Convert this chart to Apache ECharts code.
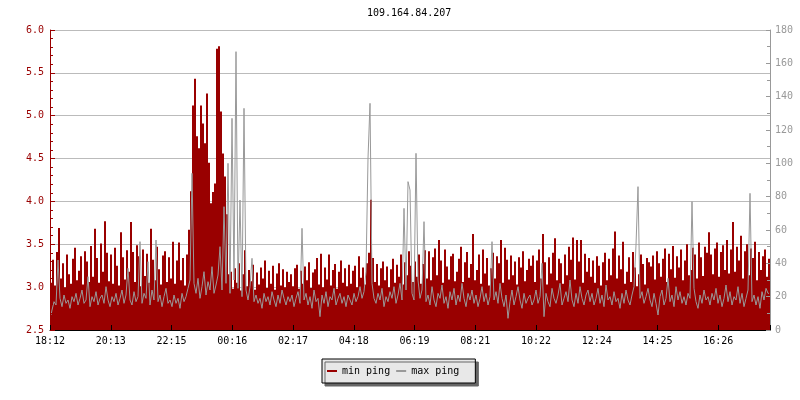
<!DOCTYPE html>
<html>
<head>
<meta charset="utf-8">
<script src="https://cdn.jsdelivr.net/npm/echarts@6/dist/echarts.min.js"></script>
<style>html,body{margin:0;padding:0;background:#fff}#c{width:800px;height:400px}</style>
</head>
<body>
<div id="c"></div>
<script>
// Title
var chartTitle = '109.164.84.207';
// x tick labels (every ~121.5 min, axis spans 1440 min = 24h starting 18:12)
var tickLabels = ['18:12','20:13','22:15','00:16','02:17','04:18','06:19','08:21','10:22','12:24','14:25','16:26'];
var tickStepMin = 121.5;
var sampleStepMin = 4; // one sample every 4 minutes

// min ping (left axis), one value per 4-minute sample
var minPing = [
3.05,3.32,3.02,3.41,3.69,3.10,3.28,3.00,3.38,3.15,3.04,3.33,3.46,3.08,3.19,3.36,3.03,3.42,3.30,3.06,3.48,3.12,3.68,3.34,3.05,3.51,3.18,3.77,3.40,3.07,
3.38,3.04,3.46,3.25,3.02,3.64,3.35,3.09,3.43,3.18,3.76,3.41,3.06,3.49,3.36,3.01,3.44,3.13,3.39,3.05,3.68,3.32,3.08,3.47,3.21,3.03,3.37,3.42,3.06,3.35,
3.10,3.53,3.04,3.31,3.52,3.08,3.34,3.02,3.38,3.67,4.12,5.12,5.43,4.76,4.62,5.12,4.91,4.68,5.26,4.45,3.98,4.11,4.21,5.78,5.81,5.05,4.56,4.29,3.85,3.15,
3.18,2.98,3.22,3.05,3.28,2.96,3.15,3.43,3.01,3.20,3.07,3.26,2.97,3.17,3.03,3.23,3.10,3.31,2.99,3.19,3.04,3.25,2.97,3.16,3.28,3.02,3.21,3.00,3.18,3.06,
3.15,3.01,3.22,3.26,2.98,3.19,3.04,3.24,3.08,3.29,2.99,3.17,3.21,3.34,3.03,3.39,3.00,3.23,3.09,3.38,3.02,3.20,3.27,2.98,3.18,3.31,3.05,3.22,3.01,3.26,
3.04,3.19,3.25,3.00,3.36,3.11,3.23,3.03,3.28,3.40,4.02,3.34,3.06,3.27,3.02,3.22,3.30,3.08,3.24,3.00,3.21,3.33,3.05,3.26,3.12,3.38,3.03,3.29,3.14,3.42,
3.25,3.06,3.30,3.12,3.38,3.04,3.27,3.43,3.10,3.42,3.08,3.35,3.45,3.14,3.55,3.31,3.05,3.44,3.24,3.09,3.36,3.39,3.07,3.18,3.33,3.47,3.06,3.29,3.41,3.11,
3.27,3.62,3.08,3.20,3.38,3.04,3.44,3.16,3.34,3.02,3.22,3.40,3.10,3.36,3.28,3.55,3.05,3.46,3.32,3.09,3.37,3.14,3.30,3.03,3.35,3.23,3.42,3.07,3.20,3.33,
3.25,3.37,3.06,3.31,3.44,3.10,3.62,3.29,3.03,3.35,3.16,3.40,3.57,3.08,3.33,3.28,3.04,3.38,3.14,3.47,3.32,3.58,3.09,3.55,3.30,3.55,3.05,3.39,3.18,3.34,
3.12,3.31,3.05,3.36,3.25,3.02,3.29,3.40,3.08,3.33,3.14,3.45,3.65,3.10,3.37,3.21,3.53,3.04,3.18,3.35,3.06,3.41,3.23,3.01,3.15,3.38,3.27,3.03,3.34,3.29,
3.24,3.37,3.09,3.42,3.28,3.12,3.33,3.45,3.06,3.39,3.21,3.48,3.11,3.36,3.23,3.44,3.08,3.31,3.50,3.14,3.20,3.46,3.38,3.10,3.52,3.35,3.13,3.47,3.40,3.64,
3.38,3.15,3.45,3.52,3.12,3.41,3.49,3.20,3.55,3.16,3.44,3.76,3.18,3.47,3.31,3.60,3.10,3.42,3.50,3.14,3.45,3.34,3.53,3.08,3.41,3.20,3.36,3.44,3.12,3.33
];

// max ping (right axis)
var maxPing = [
9,12,17,15,42,19,14,21,16,18,13,20,17,22,15,19,24,16,18,32,14,20,17,23,15,19,21,16,26,18,
14,20,17,22,15,19,24,16,21,37,18,15,23,17,20,53,16,22,19,41,15,24,18,54,17,21,14,20,25,16,
18,14,21,16,19,13,22,17,20,25,30,94,28,22,31,19,26,35,21,29,24,38,22,27,33,50,24,74,28,100,
22,127,30,167,25,78,20,133,24,18,26,43,17,21,16,19,13,22,17,20,15,23,18,14,21,16,24,19,15,20,
17,21,14,19,23,16,61,18,22,15,20,13,24,17,19,8,21,16,23,14,20,18,25,15,19,22,16,20,14,21,
18,15,22,17,20,26,19,23,35,103,136,28,19,16,22,18,25,14,20,17,23,19,26,16,21,28,18,73,24,89,
84,22,18,106,30,19,24,65,17,21,15,26,18,14,22,19,27,16,20,13,23,18,25,15,21,17,28,19,14,22,
18,24,16,21,14,19,26,17,22,15,20,53,18,23,16,28,19,14,21,7,17,24,15,20,26,18,13,22,16,19,
21,15,18,24,16,20,40,8,22,17,14,25,19,16,21,28,15,19,23,17,30,18,14,22,16,26,19,15,21,24,
17,22,15,19,25,16,21,14,27,18,20,15,23,17,19,13,22,16,24,18,15,21,26,51,86,19,23,16,20,25,
18,14,22,16,9,20,24,15,19,31,17,21,14,26,18,23,16,20,15,22,19,77,25,17,13,21,16,24,18,20,
15,22,18,25,16,21,14,19,27,17,23,15,20,18,26,16,22,14,19,24,82,17,21,15,20,13,23,18,25,22
];

var FONT = '"DejaVu Sans Mono", monospace';
var minData = minPing.map(function(v, i){ return [i * sampleStepMin + sampleStepMin / 2, v]; });
var maxData = maxPing.map(function(v, i){ return [i * sampleStepMin + sampleStepMin / 2, v]; });

var chart = echarts.init(document.getElementById('c'), null, {renderer: 'canvas'});
chart.setOption({
  animation: false,
  backgroundColor: '#fff',
  title: {
    text: chartTitle, left: 367, top: 8, padding: 0,
    textStyle: {fontFamily: FONT, fontSize: 10, fontWeight: 'normal', color: '#000'}
  },
  grid: {left: 50, right: 30, top: 30, bottom: 70},
  legend: {
    left: 322, top: 359,
    data: [
      {name: 'min ping', itemStyle: {color: '#990000'}},
      {name: 'max ping', itemStyle: {color: '#999999'}}
    ],
    icon: 'rect', itemWidth: 10, itemHeight: 2, itemGap: 6,
    padding: [6, 16, 6, 5],
    backgroundColor: '#e8e8e8', borderColor: '#000', borderWidth: 1,
    shadowColor: '#666', shadowBlur: 0, shadowOffsetX: 3, shadowOffsetY: 3,
    textStyle: {fontFamily: FONT, fontSize: 10, color: '#000', lineHeight: 12}
  },
  xAxis: {
    type: 'value', min: 0, max: 1440, interval: tickStepMin, z: 10,
    axisLine: {lineStyle: {color: '#000', width: 1}},
    axisTick: {inside: true, length: 5, lineStyle: {color: '#000'}},
    axisLabel: {
      color: '#000', fontFamily: FONT, fontSize: 10, margin: 6,
      formatter: function(v){
        var k = Math.round(v / tickStepMin);
        if (Math.abs(v - k * tickStepMin) < 0.5 && k < tickLabels.length) return tickLabels[k];
        return '';
      }
    },
    splitLine: {show: false}
  },
  yAxis: [
    {
      type: 'value', min: 2.5, max: 6, interval: 0.5, position: 'left',
      axisLine: {show: false}, axisTick: {show: false}, axisLabel: {show: false},
      splitLine: {show: true, lineStyle: {color: '#bbb', width: 1}}
    },
    {
      type: 'value', min: 0, max: 180, interval: 20, position: 'right', z: 10,
      axisLine: {show: true, lineStyle: {color: '#999'}},
      axisTick: {show: true, inside: true, length: 4, lineStyle: {color: '#999'}},
      minorTick: {show: true, splitNumber: 2, length: 3, lineStyle: {color: '#999'}},
      axisLabel: {color: '#999', fontFamily: FONT, fontSize: 10, margin: 5},
      splitLine: {show: false}
    },
    {
      type: 'value', min: 2.5, max: 6, interval: 0.5, position: 'left', z: 10,
      axisLine: {show: true, lineStyle: {color: '#990000'}},
      axisTick: {show: true, inside: true, length: 5, lineStyle: {color: '#990000'}},
      minorTick: {show: true, splitNumber: 5, length: 3, lineStyle: {color: '#990000'}},
      axisLabel: {color: '#990000', fontFamily: FONT, fontSize: 10, margin: 6,
        formatter: function(v){ return v.toFixed(1); }},
      splitLine: {show: false}
    }
  ],
  series: [
    {
      name: 'min ping', type: 'bar', yAxisIndex: 0, data: minData,
      barWidth: 2, barGap: '-100%', clip: true,
      itemStyle: {color: '#990000', borderWidth: 0}
    },
    {
      name: 'max ping', type: 'line', yAxisIndex: 1, data: maxData,
      step: 'middle', showSymbol: false, symbol: 'none', z: 3,
      itemStyle: {color: '#999999'},
      lineStyle: {color: '#999999', width: 1}
    }
  ]
});
</script>
</body>
</html>
